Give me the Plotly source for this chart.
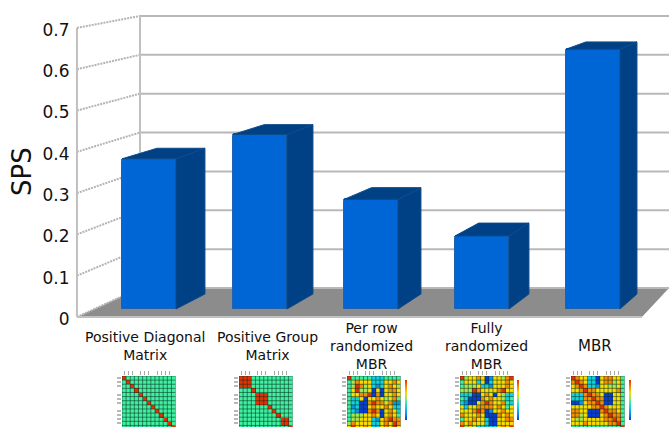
import plotly.graph_objects as go

# Bar chart data
categories = ["Positive Diagonal<br>Matrix", "Positive Group<br>Matrix",
              "Per row<br>randomized<br>MBR", "Fully<br>randomized<br>MBR", "MBR"]
category_label_shift_px = [-4, 7, 0, 4, 2]
category_label_size = [14, 14, 14, 14, 15]
sps_values = [0.37, 0.43, 0.27, 0.18, 0.64]
y_ticks = [0, 0.1, 0.2, 0.3, 0.4, 0.5, 0.6, 0.7]
y_tick_labels = ["0", "0.1", "0.2", "0.3", "0.4", "0.5", "0.6", "0.7"]

# Correlation thumbnails, one letter per cell (see LEVELS)
LEVELS = {"B": 0.0, "b": 0.16, "C": 0.33, "G": 0.45, "L": 0.56,
          "Y": 0.68, "O": 0.82, "R": 1.0}
THUMB_SCALE = [
    [0.0, "#0a3cdc"], [0.16, "#0a96e6"], [0.33, "#10d2e0"], [0.45, "#40f0a0"],
    [0.56, "#a8e650"], [0.68, "#fadc00"], [0.82, "#fa8c00"], [1.0, "#e63200"],
]
diagonal_rows = ["".join("R" if r == c else "G" for c in range(13)) for r in range(13)]
group_rows = [
    "RRRGGGGGGGGGG", "RRRGGGGGGGGGG", "RRRGGGGGGGGGG", "GGGRGGGGGGGGG",
    "GGGGRRRGGGGGG", "GGGGRRRGGGGGG", "GGGGRRRGGGGGG", "GGGGGGGRGGGGG",
    "GGGGGGGGRGGGG", "GGGGGGGGGRGGG", "GGGGGGGGGGRRG", "GGGGGGGGGGRRG",
    "GGGGGGGGGGGGR",
]
per_row_rows = [
    "RGGGGGCCCGGGG", "GLOYYYCCCYYOY", "GLROLYCbCYOYL", "GYRLLYBYBYOOY",
    "GYYOORBOBYYOY", "GCCYBYYOYLYOG", "GCCBBOROOYObb", "GbCBBYOYYOYCC",
    "GCbBBOROBYOYC", "GLLLYYOYBYOYG", "GLLYYYCbYOROO", "LOYYYYCCYOYRO",
    "YRYYOYCCYOYRY",
]
fully_rows = [
    "RLYYOYBbYYLOR", "GYYYCYBCYYYOY", "GLLLYCCbYYYOY", "LLLROYYYYORYY",
    "CCCBBYOYBYLCC", "GCBBBOYOYYLCG", "CbBBYOROYYOGC", "YCYYOOOOYOYGY",
    "YYYOROBbYYOYY", "OYYYOYBBBOYOY", "GYYOYYCBBYYOO", "OYOYYYCBBYYYY",
    "RLYLCCCCCYOYR",
]
mbr_rows = [
    "ROYYCCBYOOYYG", "OROYCCBYOOLYG", "YOROCCbYYLLYG", "YYOROOYYYYYOG",
    "CCCOROOYBBYYG", "CCCOOROOBBYYG", "BBbYOOROBBYYG", "YYYYYOOROYYYG",
    "OOYYBBBOROOYG", "OOLYBBBYOROOG", "YLLYYYYYOOROG", "YYYOYYYYYOORG",
    "GGGGGGGGGGGGR",
]
thumbnails = [diagonal_rows, group_rows, per_row_rows, fully_rows, mbr_rows]
thumbnail_left_px = [122, 239, 347, 460, 571]
colorbar_left_px = [None, None, 405, 517, 629]

# Page and plot geometry
W, H = 669, 427
BAR_PITCH = 111
CAT0_PX = 149
BAR_WIDTH = 0.486
x_range = [-CAT0_PX / BAR_PITCH, (W - CAT0_PX) / BAR_PITCH]

# Front wall axis and the axis the bars stand on, set slightly back in the box
WALL_BASE_PX, WALL_SCALE = 317, 413
BAR_BASE_PX, BAR_SCALE = 309, 406
wall_range = [(WALL_BASE_PX - H) / WALL_SCALE, WALL_BASE_PX / WALL_SCALE]
bar_range = [(BAR_BASE_PX - H) / BAR_SCALE, BAR_BASE_PX / BAR_SCALE]

FRONT_LEFT, BACK_LEFT = -0.649, -0.081
FRONT_RIGHT, BACK_RIGHT = 4.441, x_range[1]


def back_wall(v):
    """Height of a value on the back wall, in front-wall axis units."""
    return 0.0702 + 0.941 * v


def bar_back(v):
    """Height of a value on the rear face of a bar, in bar axis units."""
    return 0.037 + 0.970 * v


fig = go.Figure()

# Floor
fig.add_trace(go.Scatter(
    x=[FRONT_LEFT, BACK_LEFT, BACK_RIGHT, FRONT_RIGHT, FRONT_LEFT],
    y=[0, back_wall(0), back_wall(0), 0, 0],
    fill="toself", fillcolor="#8c8c8c", mode="none", hoverinfo="skip", showlegend=False))

# Back wall gridlines
gx, gy = [], []
for v in y_ticks:
    gx += [BACK_LEFT, BACK_RIGHT, None]
    gy += [back_wall(v), back_wall(v), None]
fig.add_trace(go.Scatter(x=gx, y=gy, mode="lines", line=dict(color="#b8b8b8", width=2),
                         hoverinfo="skip", showlegend=False))

# Side wall gridlines
sx, sy = [], []
for v in y_ticks:
    sx += [FRONT_LEFT, BACK_LEFT, None]
    sy += [v, back_wall(v), None]
fig.add_trace(go.Scatter(x=sx, y=sy, mode="lines",
                         line=dict(color="#b4b4b4", width=2, dash="2px,1px"),
                         hoverinfo="skip", showlegend=False))

# Wall uprights and front floor edge
fig.add_trace(go.Scatter(
    x=[FRONT_LEFT, FRONT_LEFT, None, BACK_LEFT, BACK_LEFT, None, FRONT_LEFT, FRONT_RIGHT],
    y=[0, y_ticks[-1], None, back_wall(0), back_wall(y_ticks[-1]), None, 0, 0],
    mode="lines", line=dict(color="#c0c0c0", width=2), hoverinfo="skip", showlegend=False))

# Bars: front face, then the side and top faces derived from the same values
positions = list(range(len(sps_values)))
fig.add_trace(go.Bar(
    x=positions, y=sps_values, width=BAR_WIDTH, xaxis="x", yaxis="y2",
    marker=dict(color="#0066d6", line=dict(color="#1f62ad", width=1), cornerradius=2),
    hoverinfo="y", showlegend=False))

side_x, side_y, top_x, top_y = [], [], [], []
for i, v in zip(positions, sps_values):
    left, right = i - BAR_WIDTH / 2, i + BAR_WIDTH / 2
    back_l = left + 0.315 - 0.034 * i
    back_r = right + 0.261 - 0.027 * i
    side_x += [right, back_r, back_r, right, right, None]
    side_y += [0, bar_back(0), bar_back(v), v, 0, None]
    top_x += [left, back_l, back_r, right, left, None]
    top_y += [v, bar_back(v), bar_back(v), v, v, None]
for px, py in ((side_x, side_y), (top_x, top_y)):
    fig.add_trace(go.Scatter(
        x=px, y=py, xaxis="x", yaxis="y2", mode="lines", fill="toself",
        fillcolor="#004084", line=dict(color="#0c4a8c", width=1),
        hoverinfo="skip", showlegend=False))

# Thumbnails under the category labels
CELL = 4.12
THUMB_TOP = 376
N = 13
layout_axes = {}
for k, (rows, left_px, bar_px) in enumerate(zip(thumbnails, thumbnail_left_px, colorbar_left_px)):
    n = k + 3
    z = [[LEVELS[ch] for ch in row] for row in rows]
    trace = dict(z=z, xaxis=f"x{n}", yaxis=f"y{n}", zmin=0, zmax=1,
                 colorscale=THUMB_SCALE, hoverinfo="z")
    if bar_px is None:
        trace["showscale"] = False
    else:
        trace["colorbar"] = dict(
            x=bar_px / W, xanchor="left", xpad=0, ypad=0, thickness=2, thicknessmode="pixels",
            y=(H - 380) / H, yanchor="top", len=40, lenmode="pixels",
            showticklabels=False, ticks="", outlinewidth=0, borderwidth=0)
    fig.add_trace(go.Heatmap(**trace))

    # Thin dark lines between the cells
    lx, ly = [], []
    for e in range(N + 1):
        lx += [e - 0.5, e - 0.5, None, -0.5, N - 0.5, None]
        ly += [-0.5, N - 0.5, None, e - 0.5, e - 0.5, None]
    fig.add_trace(go.Scatter(x=lx, y=ly, xaxis=f"x{n}", yaxis=f"y{n}", mode="lines",
                             line=dict(color="rgba(10,50,35,0.55)", width=1),
                             hoverinfo="skip", showlegend=False))

    grouped = [0, 1, 2, 4, 5, 6, 8, 9, 10, 11]
    layout_axes[f"xaxis{n}"] = dict(
        domain=[left_px / W, (left_px + CELL * N) / W], anchor=f"y{n}", side="top",
        range=[-0.5, N - 0.5], showgrid=False, zeroline=False, showticklabels=False,
        tickmode="array", tickvals=grouped, ticks="outside", ticklen=4, tickwidth=1,
        tickcolor="#a8a8a8")
    layout_axes[f"yaxis{n}"] = dict(
        domain=[0, (H - THUMB_TOP) / H], anchor=f"x{n}",
        range=[(H - THUMB_TOP) / CELL - 0.5, -0.5], showgrid=False, zeroline=False,
        showticklabels=False, tickmode="array", tickvals=grouped, ticks="outside",
        ticklen=4, tickwidth=2, tickcolor="#b8b8b8")

annotations = [dict(
    text="SPS", textangle=-90, x=22 / W, y=(H - 172) / H, xref="paper", yref="paper",
    xanchor="center", yanchor="middle", showarrow=False,
    font=dict(size=26, color="#111111"))]
for i, label in enumerate(categories):
    annotations.append(dict(
        text=label, x=i + category_label_shift_px[i] / BAR_PITCH, y=(H - 346) / H,
        xref="x", yref="paper", showarrow=False,
        xanchor="center", yanchor="middle", align="center",
        font=dict(size=category_label_size[i], color="#111111")))

fig.update_layout(
    width=W, height=H, margin=dict(l=0, r=0, t=0, b=0),
    paper_bgcolor="white", plot_bgcolor="rgba(0,0,0,0)", showlegend=False,
    font=dict(family="DejaVu Sans", color="#111111"),
    bargap=0, annotations=annotations,
    xaxis=dict(domain=[0, 1], range=x_range, visible=False, fixedrange=True),
    yaxis=dict(
        domain=[0, 1], range=wall_range, anchor="free", position=77 / W, side="left",
        tickmode="array", tickvals=y_ticks, ticktext=y_tick_labels, ticks="outside",
        ticklen=4, tickcolor="rgba(0,0,0,0)", showgrid=False, zeroline=False,
        showline=False, ticklabelshift=2, tickfont=dict(size=17, color="#111111")),
    yaxis2=dict(domain=[0, 1], range=bar_range, overlaying="y", visible=False),
    **layout_axes,
)

fig.write_html("out.html")
